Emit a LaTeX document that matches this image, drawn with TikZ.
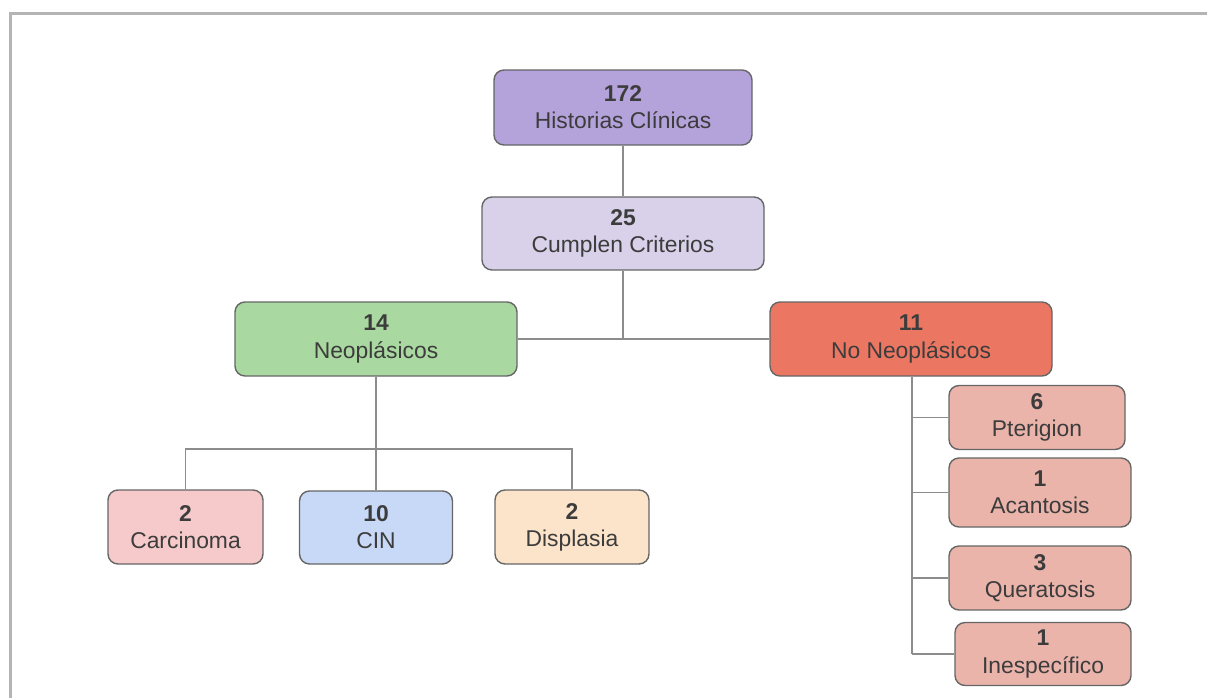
\documentclass[tikz,border=0pt]{standalone}
\usepackage{fontspec}
\setmainfont{Liberation Sans}
\usepackage{tikz}

\definecolor{frameGray}{HTML}{B4B4B4}
\definecolor{edgeGray}{HTML}{8C8C8C}
\definecolor{boxLine}{HTML}{666666}
\definecolor{txtGray}{HTML}{3C3C3C}
\definecolor{hcPurple}{HTML}{B4A2DA}
\definecolor{ccLilac}{HTML}{D9D0EA}
\definecolor{neoGreen}{HTML}{A9D9A0}
\definecolor{noneoRed}{HTML}{EB7762}
\definecolor{subRose}{HTML}{EAB4AB}
\definecolor{carPink}{HTML}{F6CACA}
\definecolor{cinBlue}{HTML}{C7D9F7}
\definecolor{disPeach}{HTML}{FCE4CB}

\begin{document}
\begin{tikzpicture}[
		every node/.style={rectangle, rounded corners=0.2cm, draw=boxLine, line width=0.8pt,
			align=center, inner sep=0pt, text=txtGray,
			font=\fontsize{13}{15.4}\selectfont},
		link/.style={draw=edgeGray, line width=0.8pt}
	]
  \useasboundingbox (0cm, 0cm) rectangle (24.14cm, -13.94cm);
  \clip (0cm, 0cm) rectangle (24.14cm, -13.94cm);
  \draw [frameGray, line width=1.2pt] (0.21cm, -14.5cm) -- (0.21cm, -0.27cm) -- (25cm, -0.27cm);

  \node (hc) [fill=hcPurple, minimum width=5.16cm, minimum height=1.5cm] at (12.46cm, -2.15cm) {\textbf{172}\\Historias Clínicas};
  \node (cc) [fill=ccLilac, minimum width=5.64cm, minimum height=1.46cm] at (12.46cm, -4.67cm) {\textbf{25}\\Cumplen Criterios};
  \node (neo) [fill=neoGreen, minimum width=5.64cm, minimum height=1.48cm] at (7.52cm, -6.78cm) {\textbf{14}\\Neoplásicos};
  \node (noneo) [fill=noneoRed, minimum width=5.64cm, minimum height=1.48cm] at (18.22cm, -6.78cm) {\textbf{11}\\No Neoplásicos};

  \node (car) [fill=carPink, minimum width=3.1cm, minimum height=1.48cm] at (3.71cm, -10.54cm) {\textbf{2}\\Carcinoma};
  \node (cin) [fill=cinBlue, minimum width=3.06cm, minimum height=1.46cm] at (7.52cm, -10.55cm) {\textbf{10}\\CIN};
  \node (dis) [fill=disPeach, minimum width=3.08cm, minimum height=1.48cm] at (11.44cm, -10.54cm) {\textbf{2}\\Displasia};

  \node (pte) [fill=subRose, minimum width=3.52cm, minimum height=1.28cm] at (20.74cm, -8.35cm) {\textbf{6}\\Pterigion};
  \node (aca) [fill=subRose, minimum width=3.64cm, minimum height=1.38cm] at (20.80cm, -9.85cm) {\textbf{1}\\Acantosis};
  \node (que) [fill=subRose, minimum width=3.64cm, minimum height=1.28cm] at (20.80cm, -11.56cm) {\textbf{3}\\Queratosis};
  \node (ine) [fill=subRose, minimum width=3.52cm, minimum height=1.26cm] at (20.86cm, -13.08cm) {\textbf{1}\\Inespecífico};

  \coordinate (bar) at (7.52cm, -8.98cm);
  \coordinate (spine) at (18.24cm, -6.78cm);

  \draw [link] (hc) -- (cc);
  \draw [link] (cc.south) -- (cc.south |- neo.east);
  \draw [link] (neo.east) -- (noneo.west);
  \draw [link] (neo) -- (cin);
  \draw [link] (car.north) |- (bar) -| (dis.north);
  \draw [link] (spine |- noneo.south) -- (spine |- ine.west);
  \foreach \sub in {pte, aca, que, ine}
    \draw [link] (spine |- \sub.west) -- (\sub.west);
\end{tikzpicture}
\end{document}
